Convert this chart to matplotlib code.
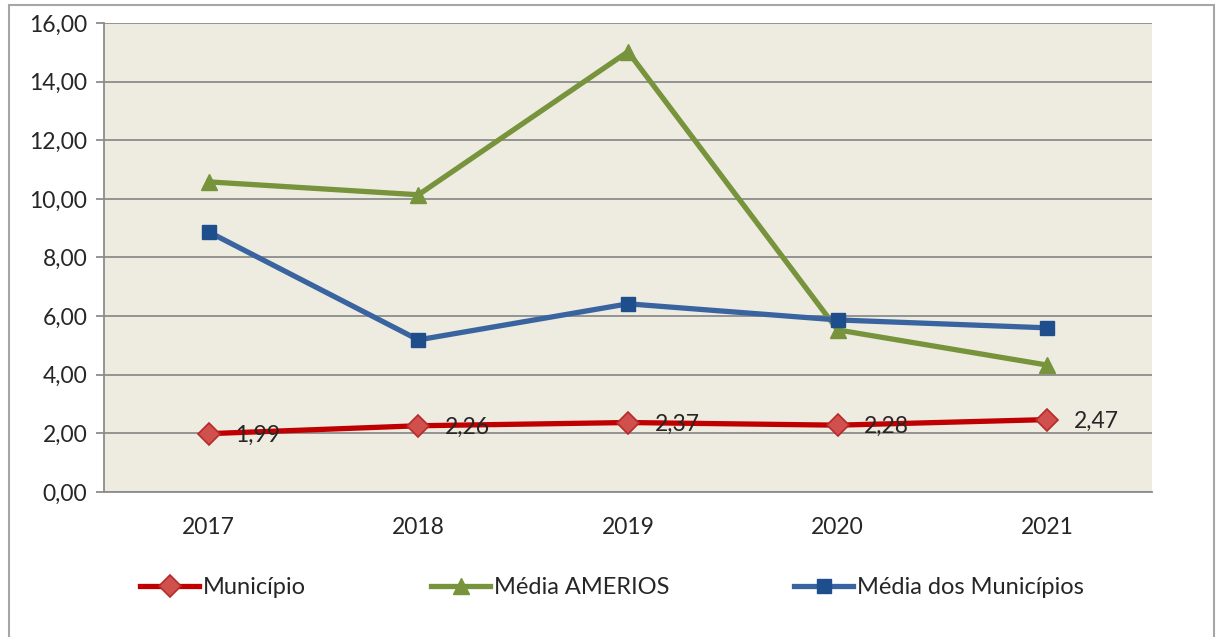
import matplotlib.pyplot as plt
from matplotlib.patches import Rectangle
from matplotlib.ticker import FuncFormatter

plt.rcParams['font.family'] = ['Lato', 'DejaVu Sans']

years = ['2017', '2018', '2019', '2020', '2021']
municipio = [1.99, 2.26, 2.37, 2.28, 2.47]
media_amerios = [10.58, 10.14, 15.02, 5.53, 4.33]
media_municipios = [8.87, 5.19, 6.42, 5.87, 5.60]
series_names = ['Município', 'Média AMERIOS', 'Média dos Municípios']
y_ticks = [0, 2, 4, 6, 8, 10, 12, 14, 16]

fig = plt.figure(figsize=(12.2, 6.37), dpi=100)
fig.patch.set_facecolor('white')

# outer chart frame
fig.patches.append(Rectangle((9 / 1220, -0.05), (1214 - 9) / 1220, 1.05 - 5 / 637,
                             transform=fig.transFigure, fill=False,
                             edgecolor='#A6A6A6', linewidth=1.5))

ax = fig.add_axes([104 / 1220, 1 - 492 / 637, (1152 - 104) / 1220, (492 - 23) / 637])
ax.set_facecolor('#EEECE1')

x = list(range(len(years)))

ax.plot(x, media_amerios, color='#77933C', linewidth=3.8, marker='^',
        markersize=12, markerfacecolor='#77933C', markeredgecolor='#77933C',
        label=series_names[1], zorder=3)
ax.plot(x, media_municipios, color='#3A64A0', linewidth=3.8, marker='s',
        markersize=10.5, markerfacecolor='#1F4E8C', markeredgecolor='#1F4E8C',
        label=series_names[2], zorder=4)
ax.plot(x, municipio, color='#C00000', linewidth=3.8, marker='D',
        markersize=11, markerfacecolor='#D0504D', markeredgecolor='#B8292A',
        markeredgewidth=1.2, label=series_names[0], zorder=5)

for xi, v in zip(x, municipio):
    ax.annotate(f'{v:.2f}'.replace('.', ','), (xi, v), xytext=(19, -1),
                textcoords='offset points', ha='left', va='center',
                fontsize=16.5, color='#262626', zorder=6)

ax.set_xlim(-0.5, len(years) - 0.5)
ax.set_ylim(0, 16)
ax.set_xticks(x)
ax.set_xticklabels(years)
ax.set_yticks(y_ticks)
ax.yaxis.set_major_formatter(FuncFormatter(lambda v, p: f'{v:.2f}'.replace('.', ',')))
ax.grid(axis='y', color='#8C8C8C', linewidth=1.3)
ax.set_axisbelow(True)

for side in ['top', 'right']:
    ax.spines[side].set_visible(False)
ax.spines['left'].set_color('#8C8C8C')
ax.spines['left'].set_linewidth(1.3)
ax.spines['bottom'].set_color('#8C8C8C')
ax.spines['bottom'].set_linewidth(1.3)

ax.tick_params(axis='y', length=6, width=1.3, color='#8C8C8C', labelsize=16.5,
               labelcolor='#262626', pad=6)
ax.tick_params(axis='x', length=0, labelsize=16.5, labelcolor='#262626', pad=18)

handles, labels = ax.get_legend_handles_labels()
order = [2, 0, 1]
leg = fig.legend([handles[i] for i in order], [labels[i] for i in order],
                 loc='center', bbox_to_anchor=(612 / 1220, 1 - 588 / 637),
                 ncol=3, frameon=False, fontsize=17, handlelength=2.5,
                 handletextpad=0.15, columnspacing=5.3, labelcolor='#262626')

fig.savefig('out.png', dpi=100, facecolor='white')
